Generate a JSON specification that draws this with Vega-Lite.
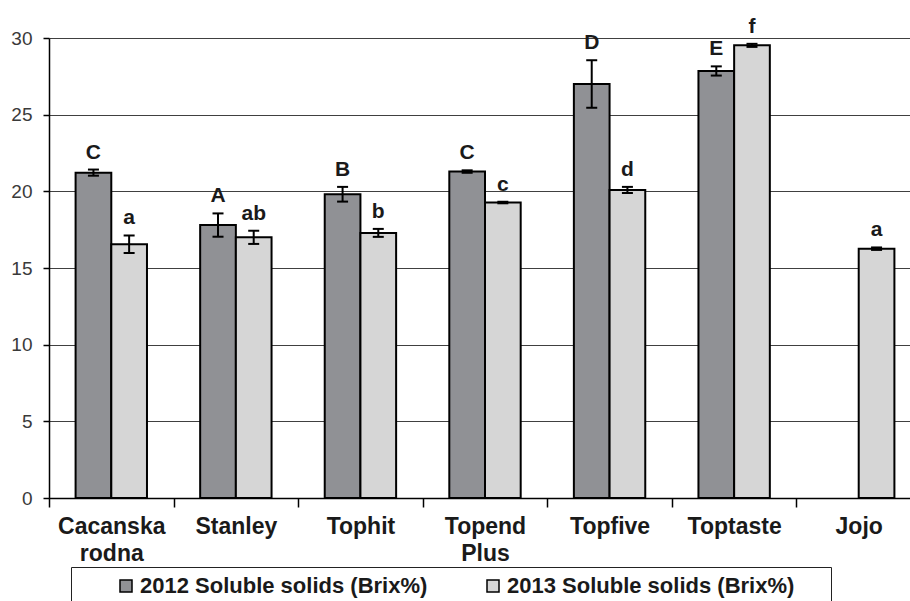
{
  "$schema": "https://vega.github.io/schema/vega-lite/v6.json",
  "width": 861,
  "height": 460,
  "autosize": {"type": "none"},
  "padding": {"left": 49, "top": 38, "right": 0, "bottom": 103},
  "background": "white",
  "config": {"view": {"stroke": null}, "font": "Liberation Sans"},
  "data": {
    "values": [
      {"cultivar": "Cacanska rodna", "series": "2012 Soluble  solids (Brix%)", "value": 21.22, "lo": 21.02, "hi": 21.42, "letter": "C"},
      {"cultivar": "Cacanska rodna", "series": "2013 Soluble  solids (Brix%)", "value": 16.55, "lo": 15.98, "hi": 17.12, "letter": "a"},
      {"cultivar": "Stanley", "series": "2012 Soluble  solids (Brix%)", "value": 17.8, "lo": 17.04, "hi": 18.56, "letter": "A"},
      {"cultivar": "Stanley", "series": "2013 Soluble  solids (Brix%)", "value": 17.0, "lo": 16.57, "hi": 17.43, "letter": "ab"},
      {"cultivar": "Tophit", "series": "2012 Soluble  solids (Brix%)", "value": 19.81, "lo": 19.33, "hi": 20.29, "letter": "B"},
      {"cultivar": "Tophit", "series": "2013 Soluble  solids (Brix%)", "value": 17.29, "lo": 17.03, "hi": 17.55, "letter": "b"},
      {"cultivar": "Topend Plus", "series": "2012 Soluble  solids (Brix%)", "value": 21.29, "lo": 21.21, "hi": 21.37, "letter": "C"},
      {"cultivar": "Topend Plus", "series": "2013 Soluble  solids (Brix%)", "value": 19.27, "lo": 19.22, "hi": 19.32, "letter": "c"},
      {"cultivar": "Topfive", "series": "2012 Soluble  solids (Brix%)", "value": 27.0, "lo": 25.45, "hi": 28.55, "letter": "D"},
      {"cultivar": "Topfive", "series": "2013 Soluble  solids (Brix%)", "value": 20.09, "lo": 19.89, "hi": 20.29, "letter": "d"},
      {"cultivar": "Toptaste", "series": "2012 Soluble  solids (Brix%)", "value": 27.85, "lo": 27.55, "hi": 28.15, "letter": "E"},
      {"cultivar": "Toptaste", "series": "2013 Soluble  solids (Brix%)", "value": 29.52, "lo": 29.42, "hi": 29.62, "letter": "f"},
      {"cultivar": "Jojo", "series": "2013 Soluble  solids (Brix%)", "value": 16.26, "lo": 16.18, "hi": 16.34, "letter": "a"}
    ]
  },
  "encoding": {
    "x": {
      "field": "cultivar",
      "type": "nominal",
      "sort": ["Cacanska rodna", "Stanley", "Tophit", "Topend Plus", "Topfive", "Toptaste", "Jojo"],
      "scale": {"range": [0, 872], "paddingInner": 0, "paddingOuter": 0},
      "axis": {
        "title": null,
        "labelAngle": 0,
        "labelFontSize": 23,
        "labelFontWeight": "bold",
        "labelColor": "#1a1a1a",
        "tickBand": "extent",
        "tickSize": 9,
        "tickColor": "black",
        "tickWidth": 1.5,
        "domainColor": "black",
        "domainWidth": 1.5,
        "labelPadding": 8,
        "labelBaseline": "top",
        "labelLineHeight": 27,
        "labelExpr": "split(datum.label, ' ')"
      }
    },
    "xOffset": {
      "field": "series",
      "type": "nominal",
      "scale": {"paddingInner": 0, "paddingOuter": 0.745}
    }
  },
  "layer": [
    {
      "mark": {"type": "bar", "stroke": "black", "strokeWidth": 2},
      "encoding": {
        "y": {
          "field": "value",
          "type": "quantitative",
          "scale": {"domain": [0, 30], "nice": false},
          "axis": {
            "title": null,
            "values": [0, 5, 10, 15, 20, 25, 30],
            "grid": true,
            "gridColor": "#404040",
            "gridWidth": 1,
            "domainColor": "black",
            "domainWidth": 1.5,
            "tickColor": "black",
            "tickWidth": 1.5,
            "tickSize": 6,
            "labelFontSize": 19,
            "labelColor": "#3a3a3a",
            "labelPadding": 11
          }
        },
        "fill": {
          "field": "series",
          "type": "nominal",
          "scale": {"range": ["#909195", "#d6d6d6"]},
          "legend": {
            "title": "\u2003",
            "titleOrient": "right",
            "titlePadding": 23,
            "titleFontSize": 18,
            "orient": "none",
            "legendX": 22,
            "legendY": 529,
            "direction": "horizontal",
            "padding": 8,
            "strokeColor": "#222222",
            "fillColor": "white",
            "symbolType": "square",
            "symbolSize": 144,
            "symbolStrokeColor": "black",
            "symbolStrokeWidth": 1.5,
            "symbolOffset": 36,
            "labelFontSize": 22,
            "labelFontWeight": "bold",
            "labelColor": "#1a1a1a",
            "labelOffset": 3,
            "labelLimit": 400,
            "columnPadding": 12
          }
        }
      }
    },
    {
      "mark": {"type": "rule", "stroke": "black", "strokeWidth": 2},
      "encoding": {
        "y": {"field": "lo", "type": "quantitative"},
        "y2": {"field": "hi"}
      }
    },
    {
      "mark": {"type": "tick", "color": "black", "size": 11, "thickness": 2, "opacity": 1},
      "encoding": {"y": {"field": "lo", "type": "quantitative"}}
    },
    {
      "mark": {"type": "tick", "color": "black", "size": 11, "thickness": 2, "opacity": 1},
      "encoding": {"y": {"field": "hi", "type": "quantitative"}}
    },
    {
      "mark": {"type": "text", "fontSize": 21, "fontWeight": "bold", "color": "#1a1a1a", "baseline": "alphabetic", "dy": -11},
      "encoding": {
        "y": {"field": "hi", "type": "quantitative"},
        "text": {"field": "letter"}
      }
    }
  ]
}
